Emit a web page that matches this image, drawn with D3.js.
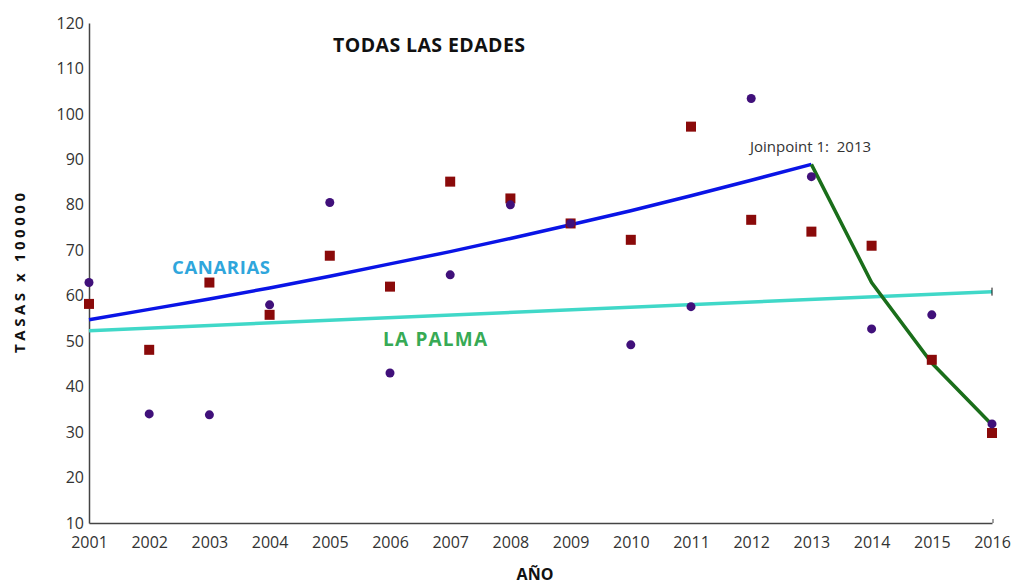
<!DOCTYPE html>
<html>
<head>
<meta charset="utf-8">
<title>Todas las edades</title>
<style>
body { margin: 0; background: #fff; }
text { font-family: "Open Sans", sans-serif; }
.tick text { fill: #333; font-size: 16px; }
</style>
</head>
<body>
<script src="https://d3js.org/d3.v7.min.js"></script>
<script>

var years = [2001, 2002, 2003, 2004, 2005, 2006, 2007, 2008, 2009, 2010, 2011, 2012, 2013, 2014, 2015, 2016];

// observed rates (squares and circles)
var squareRates = [58.2, 48.1, 62.9, 55.8, 68.8, 62.0, 85.1, 81.4, 75.9, 72.3, 97.2, 76.7, 74.1, 71.0, 45.9, 29.8];
var circleRates = [62.9, 34.0, 33.8, 58.0, 80.5, 43.0, 64.6, 80.0, 75.9, 49.2, 57.6, 103.4, 86.2, 52.7, 55.8, 31.8];

// modelled lines
var blueYears = [2001, 2002, 2003, 2004, 2005, 2006, 2007, 2008, 2009, 2010, 2011, 2012, 2013];
var blueRates = [54.7, 57.0, 59.3, 61.7, 64.3, 67.0, 69.7, 72.6, 75.6, 78.7, 82.0, 85.4, 88.9];
var greenYears = [2013, 2014, 2015, 2016];
var greenRates = [88.9, 62.9, 45.2, 31.6];
var cyanYears = [2001, 2016];
var cyanRates = [52.3, 60.9];

var yTicks = [10, 20, 30, 40, 50, 60, 70, 80, 90, 100, 110, 120];

var width = 1017,
    height = 584;

var svg = d3.select("body").append("svg")
    .attr("width", width)
    .attr("height", height);

var x = d3.scaleLinear().domain([2001, 2016]).range([89, 992]);
var y = d3.scaleLinear().domain([10, 120]).range([523, 23]);

// axes
var yAxis = svg.append("g")
    .attr("transform", "translate(89,0)")
    .call(d3.axisLeft(y).tickValues(yTicks).tickSize(0).tickPadding(5));
yAxis.select(".domain").attr("stroke", "#444").attr("stroke-width", 1.5);

var xAxis = svg.append("g")
    .attr("transform", "translate(0,523)")
    .call(d3.axisBottom(x).tickValues(years).tickFormat(d3.format("d")).tickSize(0).tickPadding(14));
xAxis.select(".domain").attr("stroke", "#444").attr("stroke-width", 1.5);

// small end tick on x axis
svg.append("line")
    .attr("x1", x(2016) + 1).attr("x2", x(2016) + 1)
    .attr("y1", 519).attr("y2", 523)
    .attr("stroke", "#444");

var line = d3.line()
    .x(function(d) { return x(d[0]); })
    .y(function(d) { return y(d[1]); });

function pairs(xs, ys) {
  return xs.map(function(v, i) { return [v, ys[i]]; });
}

svg.append("path")
    .attr("d", line(pairs(cyanYears, cyanRates)))
    .attr("fill", "none")
    .attr("stroke", "#40d8c8")
    .attr("stroke-width", 3.5);

svg.append("path")
    .attr("d", line(pairs(blueYears, blueRates)))
    .attr("fill", "none")
    .attr("stroke", "#0a14e6")
    .attr("stroke-width", 3.5);

svg.append("path")
    .attr("d", line(pairs(greenYears, greenRates)))
    .attr("fill", "none")
    .attr("stroke", "#1a6e1a")
    .attr("stroke-width", 3.5);

// end ticks at right edge
[cyanRates[1], greenRates[3]].forEach(function(v) {
  svg.append("line")
      .attr("x1", x(2016)).attr("x2", x(2016))
      .attr("y1", y(v) - 4).attr("y2", y(v) + 4)
      .attr("stroke", "#111").attr("stroke-width", 1);
});

// markers
svg.append("g").selectAll("rect")
    .data(pairs(years, squareRates))
    .enter().append("rect")
    .attr("x", function(d) { return x(d[0]) - 5; })
    .attr("y", function(d) { return y(d[1]) - 5; })
    .attr("width", 10)
    .attr("height", 10)
    .attr("fill", "#8a0a0a");

svg.append("g").selectAll("circle")
    .data(pairs(years, circleRates))
    .enter().append("circle")
    .attr("cx", function(d) { return x(d[0]); })
    .attr("cy", function(d) { return y(d[1]); })
    .attr("r", 4.5)
    .attr("fill", "#40107a");

// texts
svg.append("text")
    .attr("x", 333).attr("y", 52)
    .attr("font-size", 19.5).attr("font-weight", "bold")
    .attr("fill", "#111")
    .attr("textLength", 192)
    .text("TODAS LAS EDADES");

svg.append("text")
    .attr("x", 750).attr("y", 152)
    .attr("font-size", 15)
    .attr("fill", "#333")
    .attr("xml:space", "preserve")
    .text("Joinpoint 1:  2013");

svg.append("text")
    .attr("x", 172).attr("y", 274)
    .attr("font-size", 18.5).attr("font-weight", "bold")
    .attr("fill", "#2fa6dc")
    .attr("textLength", 98)
    .text("CANARIAS");

svg.append("text")
    .attr("x", 383).attr("y", 346)
    .attr("font-size", 19).attr("font-weight", "bold")
    .attr("fill", "#37aa55")
    .attr("textLength", 104)
    .text("LA PALMA");

svg.append("text")
    .attr("transform", "translate(25,273) rotate(-90)")
    .attr("text-anchor", "middle")
    .attr("font-family", "DejaVu Sans")
    .attr("font-size", 15).attr("font-weight", "bold")
    .attr("fill", "#111")
    .attr("textLength", 160)
    .text("TASAS x 100000");

svg.append("text")
    .attr("x", 535).attr("y", 580)
    .attr("text-anchor", "middle")
    .attr("font-size", 16).attr("font-weight", "bold")
    .attr("fill", "#111")
    .text("AÑO");

</script>
</body>
</html>
